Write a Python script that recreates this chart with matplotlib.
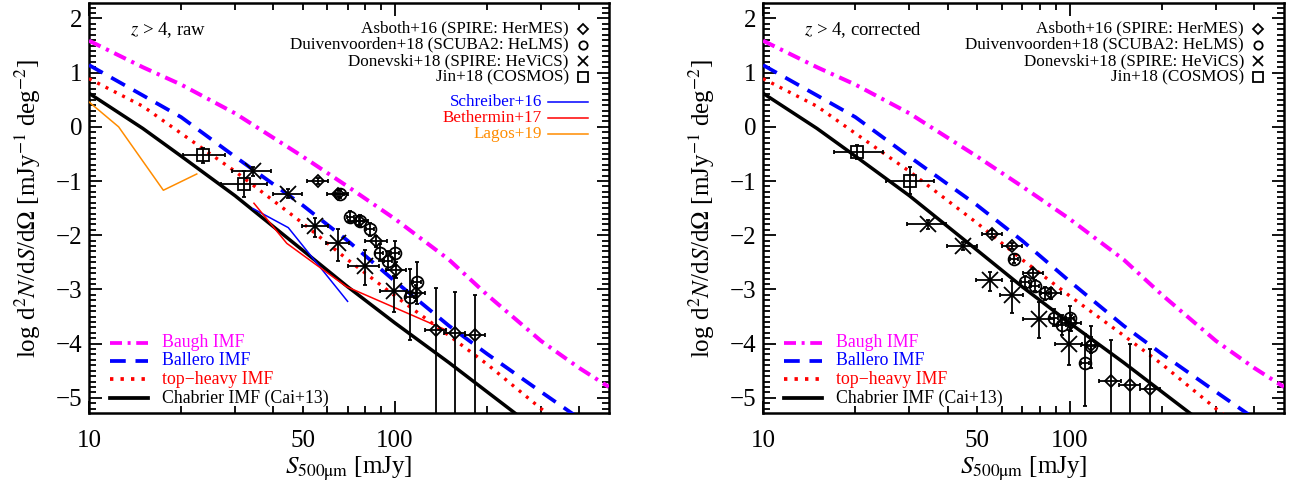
import numpy as np
import matplotlib
matplotlib.use('Agg')
import matplotlib.pyplot as plt
from matplotlib.ticker import MultipleLocator, FixedLocator, FuncFormatter

plt.rcParams['font.family'] = ['Liberation Serif', 'DejaVu Serif']
plt.rcParams['mathtext.fontset'] = 'stix'

# model counts, log d2N/dS/dOmega, same in both panels
S_model = [10, 15, 20, 30, 50, 70, 100, 150, 200, 300, 400, 500]
baugh = [1.59, 1.10, 0.78, 0.25, -0.55, -1.10, -1.70, -2.45, -3.10, -3.95, -4.45, -4.80]
ballero = [1.14, 0.58, 0.18, -0.55, -1.45, -2.10, -2.85, -3.67, -4.19, -4.89, -5.38, -5.75]
top_heavy = [0.89, 0.38, -0.12, -0.82, -1.78, -2.45, -3.12, -3.85, -4.38, -5.20, -5.75, -6.15]
chabrier = [0.62, -0.03, -0.54, -1.27, -2.28, -2.95, -3.62, -4.35, -4.89, -5.65, -6.20, -6.60]

# other simulations (raw panel only)
S_schreiber = [34.4, 44.8, 70]
schreiber = [-1.51, -1.86, -3.22]
S_bethermin = [34.6, 44.3, 58.3, 69.5, 147]
bethermin = [-1.41, -2.15, -2.64, -2.95, -3.75]
S_lagos = [10, 12.5, 17.5, 22.5]
lagos = [0.46, 0.0, -1.17, -0.87]

# Asboth+16 (diamonds)
S_asb = [56, 65, 76, 87, 101, 117, 136, 157, 183]
S_asb_err = [4.3, 5, 5.8, 7, 7.5, 8, 11, 12, 14]
asb_raw = [-1.00, -1.23, -1.73, -2.11, -2.64, -3.06, -3.74, -3.80, -3.84]
asb_cor = [-1.97, -2.20, -2.70, -3.07, -3.62, -4.03, -4.69, -4.77, -4.83]
asb_up = [0.06, 0.06, 0.08, 0.10, 0.15, 0.15, 0.76, 0.76, 0.73]
asb_dn = [0.06, 0.06, 0.08, 0.10, 0.15, 0.15, 2.0, 2.0, 2.0]

# Duivenvoorden+18 (circles)
S_dui = [66, 71.5, 77, 83, 89, 94.7, 100.3, 117.8, 112]
S_dui_err = [2, 2, 2.3, 2.5, 2.7, 2.8, 3, 3.5, 3.4]
dui_raw = [-1.24, -1.66, -1.73, -1.89, -2.32, -2.47, -2.32, -2.86, -3.14]
dui_cor = [-2.43, -2.86, -2.93, -3.07, -3.52, -3.66, -3.52, -4.05, -4.35]
dui_up = [0.08, 0.10, 0.10, 0.12, 0.15, 0.18, 0.22, 0.37, 0.52]
dui_dn = [0.08, 0.10, 0.10, 0.12, 0.15, 0.18, 0.25, 0.40, 0.80]

# Donevski+18 (crosses)
S_don = [34.4, 44.8, 54.9, 64.9, 79.5, 99.5]
S_don_err = [5, 5, 5.3, 5.6, 9.2, 10]
don_raw = [-0.82, -1.23, -1.83, -2.14, -2.57, -3.03]
don_cor = [-1.80, -2.20, -2.82, -3.10, -3.54, -4.01]
don_up = [0.08, 0.08, 0.14, 0.25, 0.30, 0.27]
don_dn = [0.08, 0.08, 0.20, 0.33, 0.35, 0.38]

# Jin+18 (squares)
S_jin_raw = [23.5, 32.1]
S_jin_cor = [20.3, 30.2]
S_jin_lo = [3.2, 5.0]
S_jin_hi = [4.3, 6.0]
jin_raw = [-0.52, -1.06]
jin_cor = [-0.46, -1.00]
jin_up = [0.13, 0.25]
jin_dn = [0.14, 0.24]

DASHDOT = (3.2, 1.5, 0.8, 1.5)
DASH = (4.2, 2.6)
DOT = (0.9, 1.9)


def draw_points(ax, x, y, xlo, xhi, ylo, yhi, marker, ms):
    ax.errorbar(x, y, xerr=[xlo, xhi], yerr=[ylo, yhi], fmt='none', ecolor='k',
                elinewidth=1.3, capsize=1.5, capthick=1.3, zorder=4)
    ax.plot(x, y, linestyle='none', marker=marker, ms=ms, mfc='none', mec='k',
            mew=1.3, zorder=5)


def panel(ax, title, asb, dui, don, S_jin, jin, raw):
    ax.plot(S_model, baugh, color='#ff00ff', lw=2.9, dashes=DASHDOT, zorder=3)
    ax.plot(S_model, ballero, color='#0000ff', lw=2.7, dashes=DASH, zorder=3)
    ax.plot(S_model, top_heavy, color='#ff0000', lw=2.4, dashes=DOT, zorder=3)
    ax.plot(S_model, chabrier, color='k', lw=2.5, zorder=3)

    if raw:
        ax.plot(S_schreiber, schreiber, color='#0000ff', lw=1.1, zorder=3)
        ax.plot(S_bethermin, bethermin, color='#ff0000', lw=1.1, zorder=3)
        ax.plot(S_lagos, lagos, color='#ff8c00', lw=1.1, zorder=3)

    draw_points(ax, S_asb, asb, S_asb_err, S_asb_err, asb_dn, asb_up, 'D', 6.5)
    draw_points(ax, S_dui, dui, S_dui_err, S_dui_err, dui_dn, dui_up, 'o', 8.5)
    draw_points(ax, S_don, don, S_don_err, S_don_err, don_dn, don_up, 'x', 11)
    draw_points(ax, S_jin, jin, S_jin_lo, S_jin_hi, jin_dn, jin_up, 's', 8.5)

    ax.set_xscale('log')
    ax.set_xlim(10, 500)
    ax.set_ylim(-5.28, 2.28)
    ax.xaxis.set_major_locator(FixedLocator([10, 100]))
    ax.xaxis.set_minor_locator(FixedLocator([20, 30, 40, 50, 60, 70, 80, 90, 200, 300, 400]))
    ax.xaxis.set_major_formatter(FuncFormatter(lambda v, p: '%d' % v))
    ax.xaxis.set_minor_formatter(FuncFormatter(lambda v, p: '50' if abs(v - 50) < 1 else ''))
    ax.yaxis.set_major_locator(MultipleLocator(1))
    ax.yaxis.set_minor_locator(MultipleLocator(0.1))
    ax.yaxis.set_major_formatter(FuncFormatter(lambda v, p: ('%d' % round(v)).replace('-', '\u2212')))
    ax.tick_params(which='both', direction='in', top=True, right=True, labelsize=18, width=1.3)
    ax.tick_params(which='major', length=9)
    ax.tick_params(which='minor', length=5)
    ax.tick_params(axis='x', which='both', pad=12)
    ax.tick_params(axis='y', which='both', pad=5)
    for sp in ax.spines.values():
        sp.set_linewidth(1.8)

    ax.set_xlabel(r'$S_{500\mathrm{\mu m}}$ [mJy]', fontsize=18, labelpad=2)
    ax.set_ylabel(r'log d$^2$$N$/d$S$/d$\Omega$ [mJy$^{-1}$ deg$^{-2}$]', fontsize=18)
    ax.yaxis.set_label_coords(-0.088, 0.5)

    ax.text(0.079, 0.934, title, transform=ax.transAxes, fontsize=13.5, va='center', ha='left')

    # data sources, upper right
    names = ['Asboth+16 (SPIRE: HerMES)', 'Duivenvoorden+18 (SCUBA2: HeLMS)',
             'Donevski+18 (SPIRE: HeViCS)', 'Jin+18 (COSMOS)']
    marks = ['D', 'o', 'x', 's']
    sizes = [5, 6, 6.5, 6.5]
    ys = [0.938, 0.899, 0.859, 0.819]
    for name, m, s, yy in zip(names, marks, sizes, ys):
        ax.text(0.923, yy, name, transform=ax.transAxes, fontsize=12.3, ha='right', va='center')
        ax.plot([0.95], [yy], transform=ax.transAxes, marker=m, ms=s, mfc='none',
                mec='k', mew=1.3, clip_on=False)

    if raw:
        sims = ['Schreiber+16', 'Bethermin+17', 'Lagos+19']
        cols = ['#0000ff', '#ff0000', '#ff8c00']
        ys = [0.759, 0.721, 0.682]
        for name, c, yy in zip(sims, cols, ys):
            ax.text(0.871, yy, name, transform=ax.transAxes, fontsize=12.3, ha='right',
                    va='center', color=c)
            ax.plot([0.883, 0.96], [yy, yy], transform=ax.transAxes, color=c, lw=1.1)

    # model legend, lower left
    labels = ['Baugh IMF', 'Ballero IMF', 'top\u2212heavy IMF', 'Chabrier IMF (Cai+13)']
    cols = ['#ff00ff', '#0000ff', '#ff0000', 'k']
    styles = [dict(dashes=DASHDOT), dict(dashes=DASH), dict(dashes=DOT), dict()]
    ys = [0.171, 0.127, 0.082, 0.036]
    for lab, c, st, yy in zip(labels, cols, styles, ys):
        ax.plot([0.040, 0.113], [yy, yy], transform=ax.transAxes, color=c, lw=2.7, **st)
        ax.text(0.140, yy, lab, transform=ax.transAxes, fontsize=12.8, va='center', color=c)


fig = plt.figure(figsize=(12.95, 4.91), dpi=100)
ax1 = fig.add_axes([0.0687, 0.1589, 0.4015, 0.8344])
ax2 = fig.add_axes([0.5892, 0.1589, 0.4023, 0.8344])

panel(ax1, r'$z$ > 4, raw', asb_raw, dui_raw, don_raw, S_jin_raw, jin_raw, True)
panel(ax2, r'$z$ > 4, corrected', asb_cor, dui_cor, don_cor, S_jin_cor, jin_cor, False)

fig.savefig('out.png', dpi=100)
